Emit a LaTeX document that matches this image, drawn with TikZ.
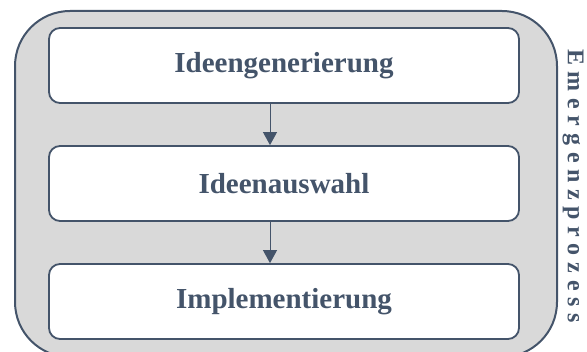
\documentclass[tikz,border=0pt]{standalone}
\usepackage{fontspec}
\setmainfont{Liberation Serif}
\usetikzlibrary{arrows.meta}
\definecolor{slate}{HTML}{44546A}
\definecolor{panel}{HTML}{D9D9D9}

\begin{document}
\begin{tikzpicture}[x=1pt,y=-1pt,
  stage/.style={draw=slate, line width=1.8pt, fill=white, rounded corners=11pt,
    minimum width=470pt, minimum height=75pt, text=slate,
    font=\fontsize{29}{34}\selectfont\bfseries},
  flow/.style={-{Triangle[length=13pt,width=14pt]}, draw=slate, fill=slate, line width=1pt}]
\useasboundingbox (0,0) rectangle (587,352);
\clip (0,0) rectangle (587,352);
% Frame (runs past the bottom edge)
\node[draw=slate, fill=panel, line width=2pt, rounded corners=55pt,
  minimum width=542pt, minimum height=346pt] (frame) at (286,184) {};

% Stages
\node[stage] (gen) at (284,65.5) {Ideengenerierung};
\node[stage] (sel) at (284,183.5) {Ideenauswahl};
\node[stage] (impl) at (284,301.5) {Implementierung};

% Arrows
\draw[flow] ([xshift=-14pt]gen.south) -- ([xshift=-14pt]sel.north);
\draw[flow] ([xshift=-14pt]sel.south) -- ([xshift=-14pt]impl.north);

% Side label
\node[text=slate, rotate=-90, inner sep=0pt,
  font=\fontsize{24}{28}\selectfont\bfseries\addfontfeatures{LetterSpace=28}]
  (lbl) at (573,186) {Emergenzprozess};
\end{tikzpicture}
\end{document}
